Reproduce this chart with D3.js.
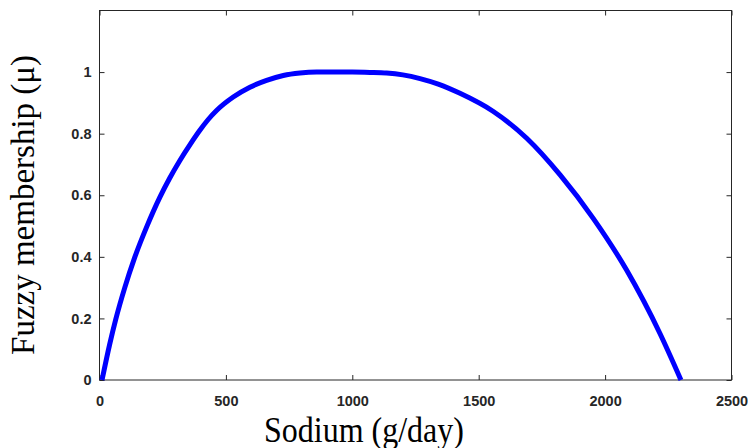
<!DOCTYPE html>
<html>
<head>
  <meta charset="utf-8">
  <script src="https://cdn.jsdelivr.net/npm/d3@7"></script>
  <style>
    body { margin: 0; background: #fff; }
    .tick text { font-family: "Liberation Sans", Arial, sans-serif; font-weight: bold; font-size: 14.5px; fill: #262626; }
    .title { font-family: "Liberation Serif", "Times New Roman", serif; fill: #000; }
  </style>
</head>
<body>
  <svg id="canvas" width="748" height="448"></svg>
<script>
  // sodium intake (g/day) and membership
  const sodium = [10, 40, 64, 100, 138, 187, 239, 278, 318, 360, 397, 430, 464, 529, 595, 661, 727, 793, 859, 1000,
                  1070, 1136, 1200, 1268, 1340, 1426, 1558, 1690, 1822, 1953, 2085, 2217, 2300];
  const membership = [0, 0.115, 0.196, 0.3, 0.395, 0.498, 0.594, 0.656, 0.713, 0.767, 0.811, 0.846, 0.876, 0.919, 0.951, 0.973, 0.989, 0.997, 1, 1,
                      0.999, 0.997, 0.991, 0.979, 0.961, 0.931, 0.872, 0.785, 0.666, 0.525, 0.357, 0.151, 0];
  const xTicks = [0, 500, 1000, 1500, 2000, 2500];
  const yTicks = [0, 0.2, 0.4, 0.6, 0.8, 1];

  const svg = d3.select("svg");
  const marginLeft = 99.5, marginTop = 10.5, width = 632, height = 369.5;

  const x = d3.scaleLinear().domain([0, 2500]).range([0, width]);
  const y = d3.scaleLinear().domain([0, 1.2]).range([height, 0]);

  const g = svg.append("g").attr("transform", `translate(${marginLeft},${marginTop})`);

  // box
  g.append("rect")
    .attr("width", width).attr("height", height)
    .attr("fill", "none").attr("stroke", "#262626").attr("stroke-width", 1);

  const xAxis = g.append("g").attr("transform", `translate(0,${height})`)
    .call(d3.axisBottom(x).tickValues(xTicks).tickSize(-5).tickPadding(12).tickFormat(d3.format("d")));
  const xTop = g.append("g")
    .call(d3.axisTop(x).tickValues(xTicks).tickSize(-5).tickFormat(""));
  const yAxis = g.append("g")
    .call(d3.axisLeft(y).tickValues(yTicks).tickSize(-5).tickPadding(8).tickFormat(d => d === 0 || d === 1 ? d3.format("d")(d) : d3.format(".1f")(d)));
  const yRight = g.append("g").attr("transform", `translate(${width},0)`)
    .call(d3.axisRight(y).tickValues(yTicks).tickSize(-5).tickFormat(""));

  [xAxis, xTop, yAxis, yRight].forEach(a => {
    a.select(".domain").remove();
    a.selectAll(".tick line").attr("stroke", "#262626");
  });
  xAxis.selectAll(".tick text").attr("dy", "0.95em");

  const data = sodium.map((s, i) => [s, membership[i]]);
  g.append("path")
    .datum(data)
    .attr("fill", "none")
    .attr("stroke", "#0000ff")
    .attr("stroke-width", 5)
    .attr("d", d3.line().x(d => x(d[0])).y(d => y(d[1])).curve(d3.curveMonotoneX));

  svg.append("text").attr("class", "title")
    .attr("transform", "translate(364,442) scale(1,1.15)")
    .attr("text-anchor", "middle")
    .attr("font-size", 32)
    .text("Sodium (g/day)");

  svg.append("text").attr("class", "title")
    .attr("transform", "translate(34,205) rotate(-90)")
    .attr("text-anchor", "middle")
    .attr("font-size", 33)
    .text("Fuzzy membership (μ)");
</script>
</body>
</html>
